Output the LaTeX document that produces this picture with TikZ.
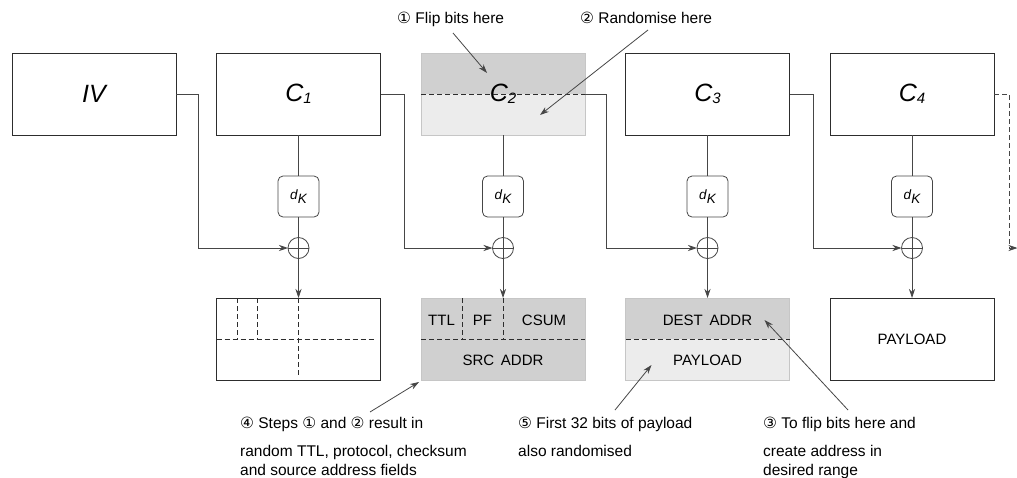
\documentclass[tikz,border=0pt]{standalone}
\usepackage{fontspec}
\setmainfont{Liberation Sans}
\newfontfamily\circfont{DejaVu Sans}
\usepackage{xcolor}
\usepackage{tikz}
\usetikzlibrary{arrows.meta, positioning, calc}
\definecolor{framegray}{RGB}{45,45,45}
\definecolor{wiregray}{RGB}{70,70,70}
\definecolor{darkfill}{RGB}{208,208,208}
\definecolor{lightfill}{RGB}{236,236,236}
\newcommand{\stepno}[1]{{\circfont #1}}
\newcommand{\cblk}[1]{{\fontsize{25}{25}\selectfont\itshape C}\raisebox{-0.45ex}{\fontsize{15}{15}\selectfont\itshape #1}}
\newcommand{\dkey}{\textit{d}\raisebox{-0.35em}{\itshape K}}

\begin{document}
\begin{tikzpicture}[x=1pt, y=-1pt, node distance=40.5pt,
      >={Stealth[length=9pt, width=6pt]},
      block/.style={draw=framegray, line width=0.9pt, minimum width=164pt,
                    minimum height=82pt, inner sep=0pt, outer sep=0pt},
      split/.style={fill=lightfill, draw=gray!45,
                    path picture={\fill[darkfill] (path picture bounding box.north west)
                                  rectangle (path picture bounding box.east);}},
      key/.style={draw=wiregray, line width=0.8pt, rounded corners=5pt, minimum size=41pt,
                  inner sep=0pt, outer sep=0pt, font=\fontsize{13.5}{13.5}\selectfont},
      xor/.style={circle, draw=wiregray, line width=0.8pt, minimum size=21pt,
                  inner sep=0pt, outer sep=0pt,
                  path picture={\draw[wiregray, line width=0.8pt]
                    (path picture bounding box.north) -- (path picture bounding box.south)
                    (path picture bounding box.west) -- (path picture bounding box.east);}},
      wire/.style={draw=wiregray, line width=0.8pt},
      cut/.style={draw=framegray, line width=0.8pt, dash pattern=on 5pt off 3pt},
      field/.style={inner sep=0pt, font=\fontsize{15}{15}\selectfont},
      note/.style={inner sep=0pt, align=left, font=\fontsize{15.5}{19}\selectfont}]

    \useasboundingbox (0,0) rectangle (1017,477);

    % ciphertext blocks
    \node[block] (IV) at (94,94) {\fontsize{25}{25}\selectfont\itshape IV};
    \node[block, right=of IV] (C1) {\cblk{1}};
    \node[block, split, right=of C1] (C2) {\cblk{2}};
    \node[block, right=of C2] (C3) {\cblk{3}};
    \node[block, right=of C3] (C4) {\cblk{4}};
    \draw[cut] (C2.west) -- (C2.east);

    % decryption and xor
    \node[key, below=41pt of C1] (D1) {\dkey};
    \node[key, below=41pt of C2] (D2) {\dkey};
    \node[key, below=41pt of C3] (D3) {\dkey};
    \node[key, below=41pt of C4] (D4) {\dkey};
    \node[xor, below=20.5pt of D1] (X1) {};
    \node[xor, below=20.5pt of D2] (X2) {};
    \node[xor, below=20.5pt of D3] (X3) {};
    \node[xor, below=20.5pt of D4] (X4) {};

    % plaintext blocks
    \node[block, below=39.5pt of X1] (P1) {};
    \node[block, fill=darkfill, draw=gray!45, below=39.5pt of X2] (P2) {};
    \node[block, split, below=39.5pt of X3] (P3) {};
    \node[block, below=39.5pt of X4] (P4) {\fontsize{15}{15}\selectfont PAYLOAD};

    \draw[wire] (C1) -- (D1) (D1) -- (X1);
    \draw[wire] (C2) -- (D2) (D2) -- (X2);
    \draw[wire] (C3) -- (D3) (D3) -- (X3);
    \draw[wire] (C4) -- (D4) (D4) -- (X4);
    \draw[wire, ->] (X1) -- (P1);
    \draw[wire, ->] (X2) -- (P2);
    \draw[wire, ->] (X3) -- (P3);
    \draw[wire, ->] (X4) -- (P4);

    \draw[wire, ->] (IV.east) -- ++(22,0) |- (X1.west);
    \draw[wire, ->] (C1.east) -- ++(24,0) |- (X2.west);
    \draw[wire, ->] (C2.east) -- ++(21,0) |- (X3.west);
    \draw[wire, ->] (C3.east) -- ++(24,0) |- (X4.west);
    \coordinate (next) at ($(X4.east)+(95,0)$);
    \draw[wire, dash pattern=on 5pt off 3pt, ->] (C4.east) -- ++(15,0) |- (next);

    % fields of the plaintext blocks
    \draw[cut] (P1.west) -- ($(P1.east)+(-5,0)$);
    \draw[cut] ($(P1.north west)+(21,0)$) -- ($(P1.west)+(21,0)$);
    \draw[cut] ($(P1.north west)+(41,0)$) -- ($(P1.west)+(41,0)$);
    \draw[cut] (P1.north) -- ($(P1.south)+(0,-5)$);

    \draw[cut] (P2.west) -- (P2.east);
    \draw[cut] ($(P2.north west)+(41,0)$) -- ($(P2.west)+(41,0)$);
    \draw[cut] (P2.north) -- (P2.center);
    \node[field] (ttl) at ($(P2.north west)+(20.5,22)$) {TTL};
    \node[field] (pf) at ($(P2.north)+(-20.5,22)$) {PF};
    \node[field] (csum) at ($(P2.north east)+(-41,22)$) {CSUM};
    \node[field] (src) at ($(P2.south)+(0,-20)$) {SRC\hspace{0.45em}ADDR};

    \draw[cut] (P3.west) -- (P3.east);
    \node[field] (dest) at ($(P3.north)+(0,22)$) {DEST\hspace{0.45em}ADDR};
    \node[field] (pay) at ($(P3.south)+(0,-20)$) {PAYLOAD};

    % annotations
    \node[note, anchor=base west] (flip) at (397,23) {\stepno{①} Flip bits here};
    \node[note, anchor=base west] (rand) at (580,23) {\stepno{②} Randomise here};
    \node[note, anchor=north west] (steps) at (240,417)
      {\stepno{④} Steps \stepno{①} and \stepno{②} result in\\[9pt]
       random TTL, protocol, checksum\\ and source address fields};
    \node[note, anchor=north west] (first) at (518,417)
      {\stepno{⑤} First 32 bits of payload\\[9pt] also randomised};
    \node[note, anchor=north west] (range) at (763,417)
      {\stepno{③} To flip bits here and\\[9pt] create address in\\ desired range};

    \draw[wire, ->] ($(flip.base west)+(56,10)$) -- ($(C2.north west)+(66,20)$);
    \draw[wire, ->] ($(rand.base west)+(68,7)$) -- ($(C2.south west)+(119,-20)$);
    \draw[wire, ->] ($(steps.north west)+(130,-5)$) -- ($(P2.south west)+(-2,2)$);
    \draw[wire, ->] ($(first.north west)+(97,-7)$) -- ($(P3.south west)+(26,-15)$);
    \draw[wire, ->] ($(range.north west)+(85,-7)$) -- ($(P3.north east)+(-25,22)$);
  \end{tikzpicture}
\end{document}
